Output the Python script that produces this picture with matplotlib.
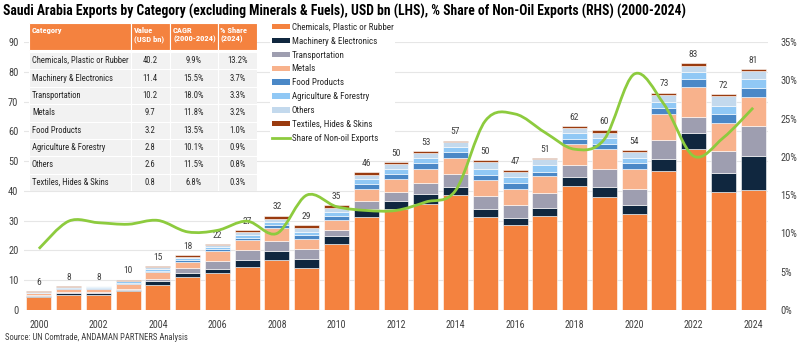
import numpy as np
import matplotlib
matplotlib.use("Agg")
import matplotlib.pyplot as plt
from matplotlib import font_manager
from matplotlib.path import Path
from matplotlib.patches import PathPatch, Rectangle, Patch
from matplotlib.lines import Line2D

installed = {f.name for f in font_manager.fontManager.ttflist}
narrow = [f for f in ['Liberation Sans Narrow', 'Arial Narrow', 'Roboto Condensed', 'Archivo Narrow',
                      'PT Sans Narrow', 'Arimo'] if f in installed]
plt.rcParams['font.family'] = narrow + ['DejaVu Sans']

years = list(range(2000, 2025))
chemicals = [4.2, 5.1, 5.1, 6.3, 8.3, 11.2, 12.3, 14.3, 16.7, 14.2, 22.1, 31.1, 33.8, 35.7, 38.6,
             31.1, 28.5, 31.5, 41.6, 38.0, 32.2, 46.8, 54.0, 39.7, 40.2]
machinery = [0.5, 0.6, 0.6, 0.5, 1.3, 1.3, 1.6, 2.5, 3.1, 2.9, 2.7, 2.7, 2.9, 3.2, 2.7,
             2.7, 2.5, 2.7, 3.1, 3.4, 3.0, 4.0, 5.3, 6.4, 11.4]
transport = [0.3, 0.4, 0.5, 0.4, 0.8, 1.7, 2.5, 3.3, 3.4, 3.4, 2.0, 2.9, 3.0, 3.9, 4.3,
             4.6, 4.2, 5.0, 3.9, 5.8, 5.3, 6.2, 5.6, 7.3, 10.2]
metals = [0.6, 0.9, 0.9, 1.6, 2.2, 1.8, 3.3, 3.4, 4.2, 3.3, 3.4, 3.8, 4.2, 4.6, 5.6,
          5.2, 5.4, 5.8, 7.3, 6.7, 6.9, 8.9, 10.0, 9.5, 9.7]
food = [0.2, 0.3, 0.3, 0.4, 0.6, 0.8, 0.7, 0.8, 1.1, 1.4, 1.5, 1.8, 1.7, 2.0, 1.8,
        1.6, 1.9, 1.5, 1.6, 1.7, 1.8, 1.9, 2.8, 2.9, 3.2]
agri = [0.2, 0.3, 0.3, 0.4, 0.5, 0.6, 0.7, 0.9, 1.1, 1.1, 1.3, 1.6, 1.9, 1.7, 1.8,
        2.1, 2.0, 2.2, 1.8, 2.0, 1.7, 2.1, 2.3, 2.6, 2.8]
others = [0.1, 0.2, 0.2, 0.3, 0.6, 0.5, 0.6, 0.9, 1.1, 1.3, 1.3, 1.4, 1.5, 1.5, 1.5,
          2.3, 1.9, 1.9, 1.9, 2.0, 2.2, 2.4, 2.0, 3.3, 2.6]
textiles = [0.2, 0.2, 0.2, 0.3, 0.4, 0.6, 0.5, 0.8, 1.0, 0.9, 0.9, 0.9, 0.8, 0.7, 0.6,
            0.7, 0.6, 0.5, 0.6, 0.8, 0.6, 0.7, 1.0, 0.8, 0.8]
totals = [6, 8, 8, 10, 15, 18, 22, 27, 32, 29, 35, 46, 50, 53, 57, 50, 47, 51, 62, 60, 54, 73, 83, 72, 81]
share = [8.0, 11.6, 11.4, 11.2, 11.7, 10.2, 10.4, 11.6, 10.0, 15.0, 13.5, 13.0, 13.0, 14.1, 15.6,
         24.7, 25.6, 23.2, 21.0, 22.3, 30.8, 26.9, 20.1, 22.5, 26.4]

series_names = ["Chemicals, Plastic or Rubber", "Machinery & Electronics", "Transportation", "Metals",
                "Food Products", "Agriculture & Forestry", "Others", "Textiles, Hides & Skins"]
series_vals = [chemicals, machinery, transport, metals, food, agri, others, textiles]
colors = ["#F4823F", "#10273F", "#9E9EB0", "#F8B28C", "#4A88C7", "#90C8F5", "#C3D9ED", "#9A3B0F"]
line_color = "#8DCB3E"

table_header = ["Category", "Value\n(USD bn)", "CAGR\n(2000-2024)", "% Share\n(2024)"]
table_value = ["40.2", "11.4", "10.2", "9.7", "3.2", "2.8", "2.6", "0.8"]
table_cagr = ["9.9%", "15.5%", "18.0%", "11.8%", "13.5%", "10.1%", "11.5%", "6.8%"]
table_share = ["13.2%", "3.7%", "3.3%", "3.2%", "1.0%", "0.9%", "0.8%", "0.3%"]

W, H = 800, 347
fig = plt.figure(figsize=(8, 3.47), dpi=100)
ax = fig.add_axes([24 / W, 1 - 310 / H, (768 - 24) / W, (310 - 42) / H])

x = np.array(years)
bottom = np.zeros(len(years))
for name, vals, c in zip(series_names, series_vals, colors):
    ax.bar(x, vals, bottom=bottom, width=0.84, color=c, edgecolor="white", linewidth=0.4, zorder=2)
    bottom += np.array(vals)

for xi, top, t in zip(x, bottom, totals):
    ax.text(xi, top + 1.4, str(t), ha="center", va="bottom", fontsize=6.8, color="#404040")

ax.set_xlim(1999.5, 2024.5)
ax.set_ylim(0, 90)
ax.set_yticks(range(0, 91, 10))
ax.set_xticks(range(2000, 2025, 2))
ax.grid(axis="y", color="#E6E6E6", linewidth=0.8, zorder=0)
ax.set_axisbelow(True)
for s in ax.spines.values():
    s.set_visible(False)
ax.tick_params(axis="y", length=0, pad=4, labelsize=7.5, labelcolor="#404040")
ax.tick_params(axis="x", length=0, pad=7, labelsize=7.2, labelcolor="#404040")

ax2 = ax.twinx()
ax2.set_ylim(0, 35)
ax2.set_yticks(range(0, 36, 5))
ax2.set_yticklabels([f"{v}%" for v in range(0, 36, 5)])
for s in ax2.spines.values():
    s.set_visible(False)
ax2.tick_params(axis="y", length=0, pad=9, labelsize=7.5, labelcolor="#404040")

# smoothed line (Excel style bezier through the points)
pts = np.column_stack([x, share]).astype(float)
verts = [tuple(pts[0])]
codes = [Path.MOVETO]
n = len(pts)
for i in range(n - 1):
    p0 = pts[max(i - 1, 0)]
    p1 = pts[i]
    p2 = pts[i + 1]
    p3 = pts[min(i + 2, n - 1)]
    c1 = p1 + (p2 - p0) / 6
    c2 = p2 - (p3 - p1) / 6
    verts += [tuple(c1), tuple(c2), tuple(p2)]
    codes += [Path.CURVE4] * 3
ax2.add_patch(PathPatch(Path(verts, codes), facecolor="none", edgecolor=line_color, linewidth=2, zorder=5))

handles = [Patch(facecolor=c, edgecolor="none") for c in colors]
handles.append(Line2D([0], [0], color=line_color, linewidth=2))
labels = series_names + ["Share of Non-oil Exports"]
leg = ax2.legend(handles, labels, loc="upper left", bbox_to_anchor=(270 / W, 1 - 21 / H),
                 bbox_transform=fig.transFigure, frameon=True, fontsize=6.5, labelspacing=0.54,
                 handlelength=2.0, handleheight=0.55, handletextpad=0.2, borderpad=0.2, borderaxespad=0)
leg.get_frame().set_edgecolor("none")
leg.get_frame().set_facecolor("white")
leg.get_frame().set_alpha(1)
leg.set_zorder(10)
for t in leg.get_texts():
    t.set_color("#262626")

# table
tx = fig.add_axes([29 / W, 1 - 191 / H, (257 - 29) / W, (191 - 23) / H])
tx.set_xlim(29, 257)
tx.set_ylim(191, 23)
tx.axis("off")
col_edges = [29, 130.5, 170, 217.5, 257]
head_top, head_bot = 23, 50
row_h = (191 - 52) / 8
orange = colors[0]
for j in range(4):
    tx.add_patch(Rectangle((col_edges[j], head_top), col_edges[j + 1] - col_edges[j], head_bot - head_top,
                           facecolor=orange, edgecolor="white", linewidth=0.8))
    tx.text(col_edges[j] + 3, head_top + 4, table_header[j], ha="left", va="top",
            fontsize=6.1, color="white", fontweight="bold", linespacing=1.3)
for i in range(8):
    y0 = 52 + i * row_h
    for j in range(4):
        tx.add_patch(Rectangle((col_edges[j], y0), col_edges[j + 1] - col_edges[j], row_h,
                               facecolor="#F2F2F2", edgecolor="white", linewidth=0.8))
    yc = y0 + row_h / 2
    tx.text(col_edges[0] + 3, yc, series_names[i], ha="left", va="center", fontsize=6.2, color="#262626")
    for j, col in zip(range(1, 4), [table_value, table_cagr, table_share]):
        tx.text((col_edges[j] + col_edges[j + 1]) / 2, yc, col[i], ha="center", va="center",
                fontsize=6.2, color="#262626")

fig.text(3 / W, 1 - 11 / H, "Saudi Arabia Exports by Category (excluding Minerals & Fuels), USD bn (LHS), "
         "% Share of Non-Oil Exports (RHS) (2000-2024)", ha="left", va="center", fontsize=9.8,
         fontweight="bold", color="black")
fig.text(5 / W, 1 - 337 / H, "Source: UN Comtrade, ANDAMAN PARTNERS Analysis", ha="left", va="center",
         fontsize=6.2, color="#404040")

fig.savefig("out.png", dpi=100)
